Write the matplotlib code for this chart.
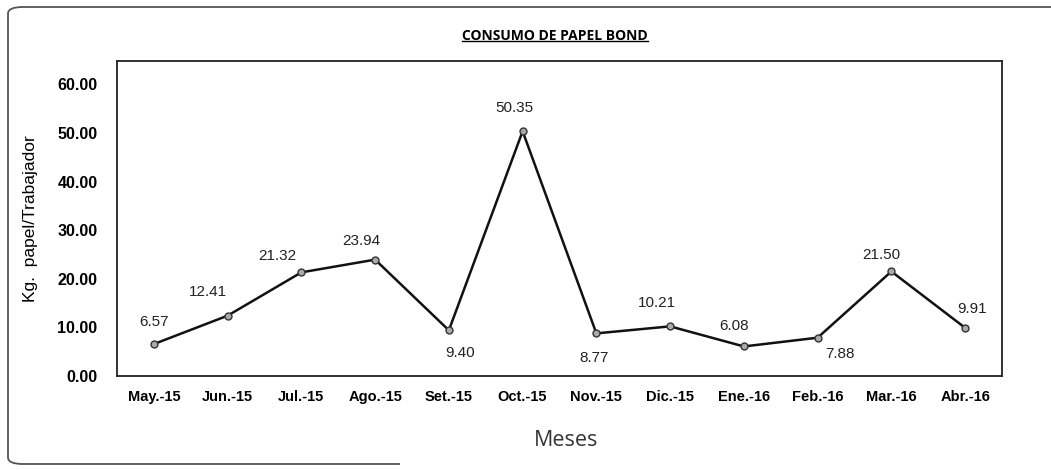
import matplotlib.pyplot as plt
from matplotlib.patches import FancyBboxPatch, Rectangle

# Datos del grafico
meses = ['May.-15', 'Jun.-15', 'Jul.-15', 'Ago.-15', 'Set.-15', 'Oct.-15',
         'Nov.-15', 'Dic.-15', 'Ene.-16', 'Feb.-16', 'Mar.-16', 'Abr.-16']
consumo = [6.57, 12.41, 21.32, 23.94, 9.40, 50.35, 8.77, 10.21, 6.08, 7.88, 21.50, 9.91]
y_ticks = [0, 10, 20, 30, 40, 50, 60]

# desplazamiento de cada etiqueta (pixeles: dx, dy)
label_offsets = [(0, 22), (-20, 24), (-24, 16), (-14, 19), (11, -23), (-8, 23),
                 (-2, -25), (-13, 23), (-10, 20), (22, -16), (-10, 16), (7, 19)]

fig = plt.figure(figsize=(10.51, 4.70), dpi=100)
W, H = 1051, 470

# marco exterior redondeado
frame = FancyBboxPatch((8 / W, 6 / H), 1.1, (463 - 6) / H,
                       boxstyle='round,pad=0,rounding_size=0.014',
                       transform=fig.transFigure, fill=False,
                       edgecolor='#555555', lw=1.3, zorder=0)
fig.patches.append(frame)
fig.patches.append(Rectangle((400 / W, 0), 1, 14 / H, transform=fig.transFigure,
                             facecolor='white', edgecolor='none', zorder=1))

ax = fig.add_axes([117 / W, (470 - 376) / H, (1002 - 117) / W, (376 - 61) / H])
x = list(range(len(meses)))
ax.plot(x, consumo, color='#111111', lw=1.8, marker='o', markersize=5,
        markerfacecolor='#aaaaaa', markeredgecolor='#333333', markeredgewidth=1)

for i, v in enumerate(consumo):
    dx, dy = label_offsets[i]
    ax.annotate(f'{v:.2f}', (i, v), xytext=(dx * 0.72, dy * 0.72),
                textcoords='offset points', ha='center', va='center',
                fontsize=11, family='Liberation Sans', color='#222222')

ax.set_xlim(-0.5, 11.5)
ax.set_ylim(0, 64.8)
ax.set_yticks(y_ticks)
ax.set_yticklabels([f'{t:.2f}' for t in y_ticks], fontsize=11.5, fontweight='bold',
                   family='Liberation Sans')
ax.set_xticks(x)
ax.set_xticklabels(meses, fontsize=10.5, fontweight='bold', family='Liberation Sans')
ax.tick_params(length=0, pad=10)
ax.tick_params(axis='y', pad=14)
for s in ax.spines.values():
    s.set_color('#222222')
    s.set_linewidth(1.3)

ax.set_ylabel('Kg.  papel/Trabajador', fontsize=12.5, family='Liberation Sans',
              labelpad=14)
fig.text(566 / W, 1 - 440 / H, 'Meses', ha='center', va='center',
         fontsize=15.5, family='Open Sans', color='#333333')

title = fig.text(555 / W, 1 - 36 / H, 'CONSUMO DE PAPEL BOND', ha='center',
                 va='center', fontsize=10, fontweight='bold', family='Open Sans')
fig.canvas.draw()
bb = title.get_window_extent().transformed(fig.transFigure.inverted())
fig.add_artist(plt.Line2D([bb.x0, bb.x1], [bb.y0 + 0.004, bb.y0 + 0.004],
                          color='black', lw=1, transform=fig.transFigure))

fig.savefig('out.png', dpi=100)
